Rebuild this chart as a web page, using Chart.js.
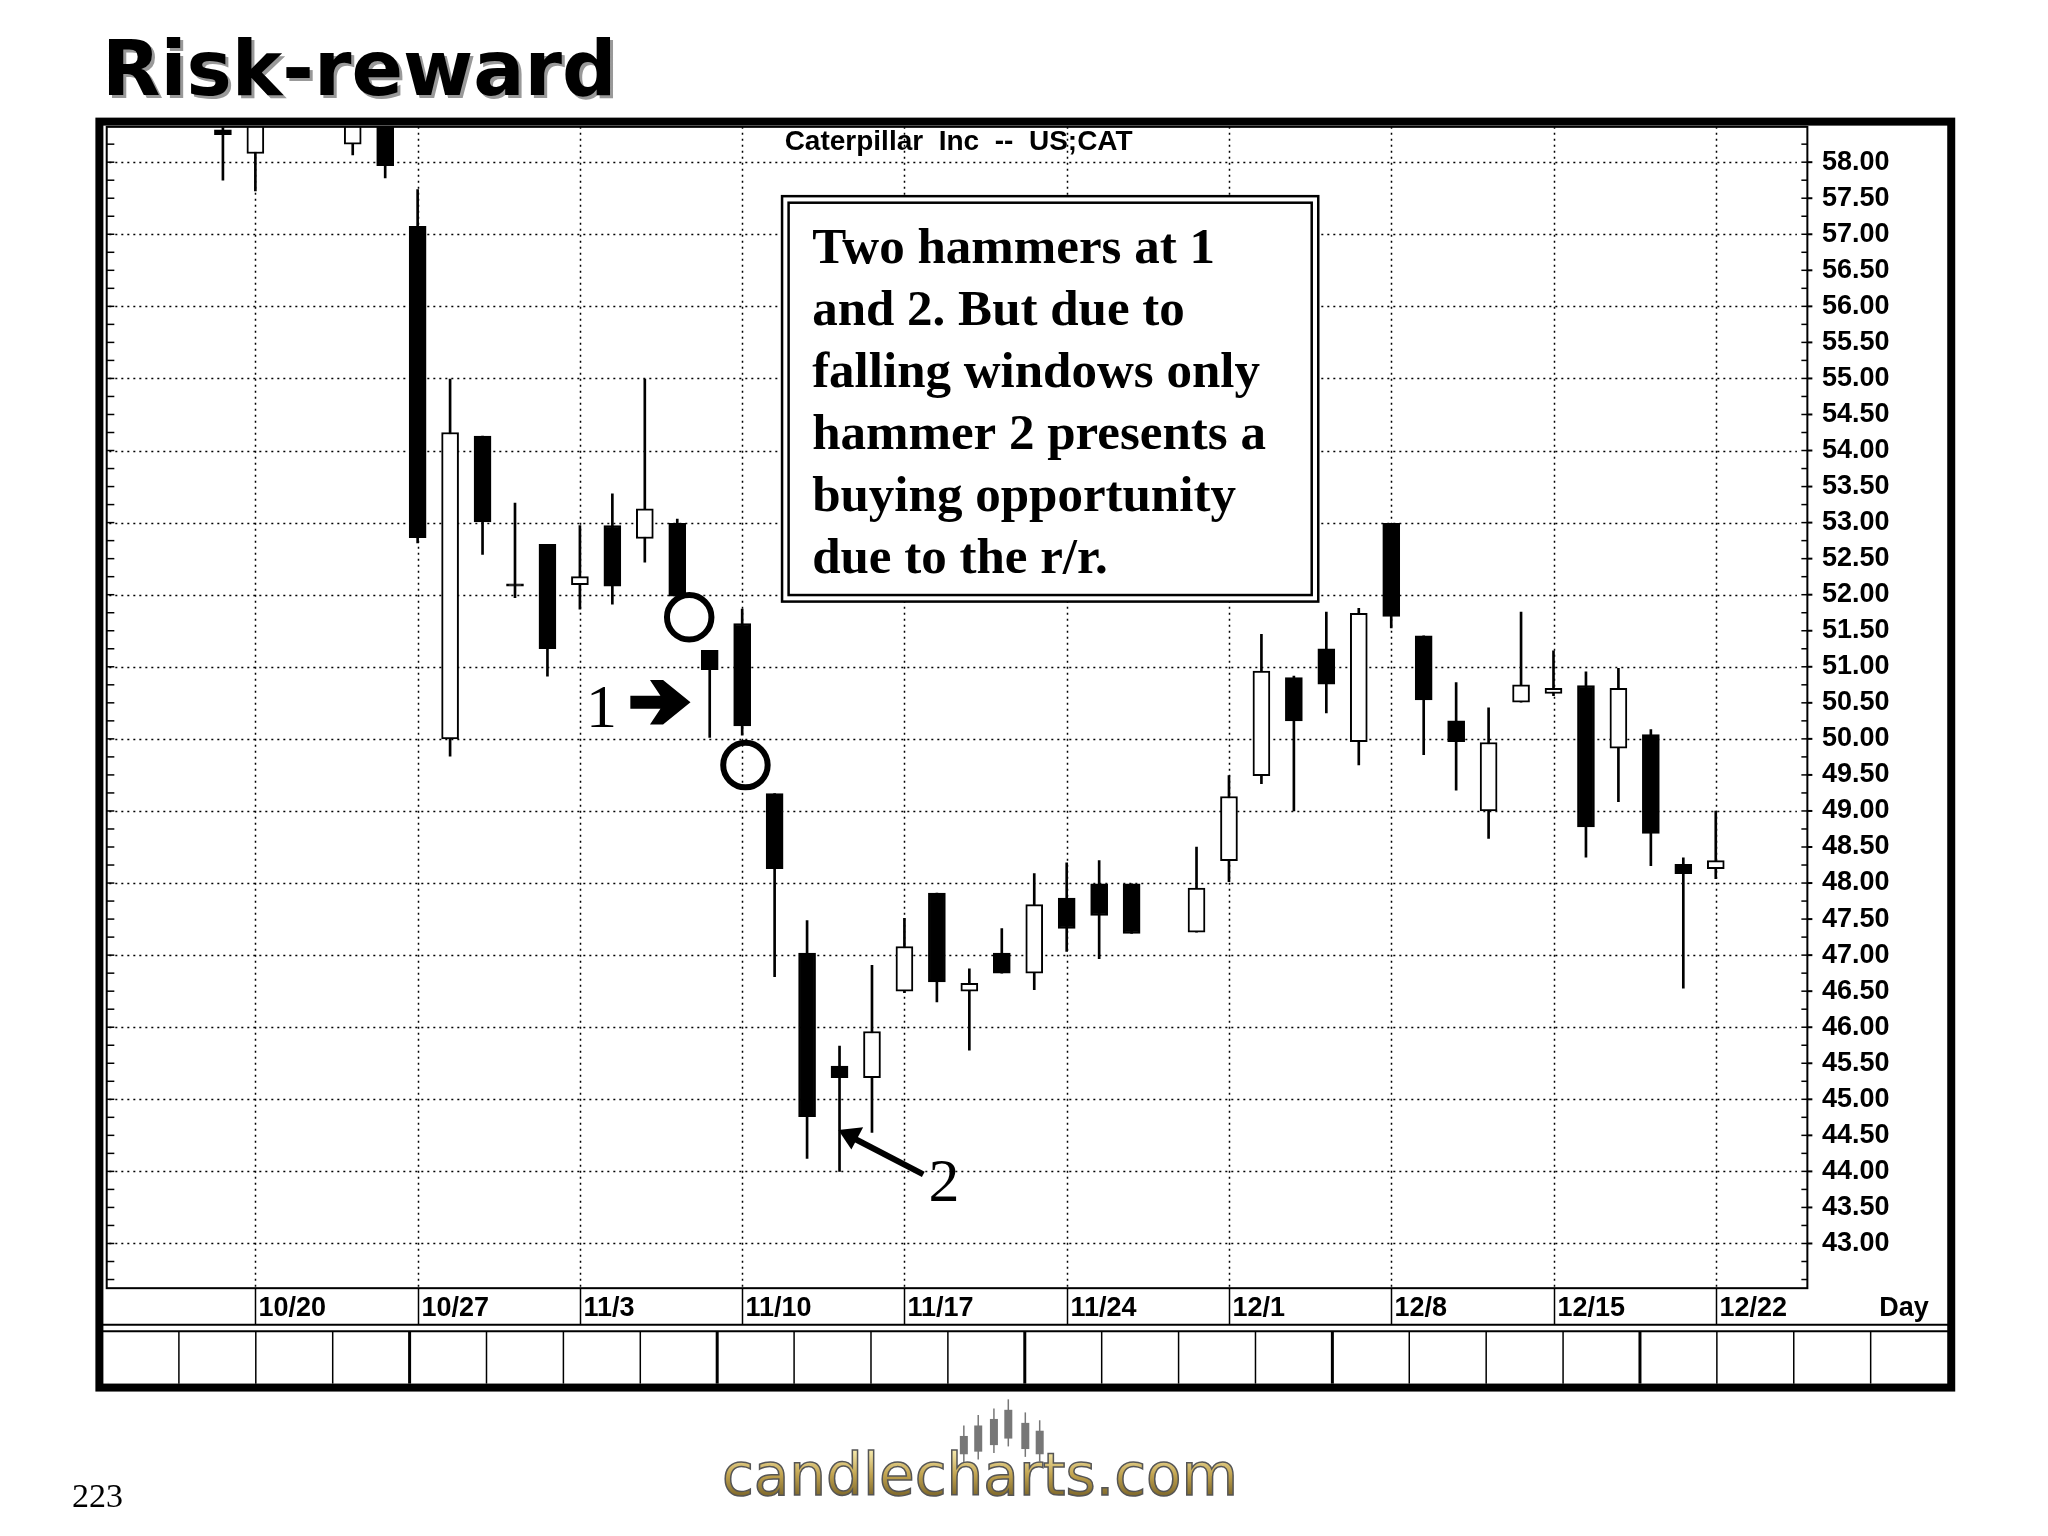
<!DOCTYPE html>
<html>
<head>
<meta charset="utf-8">
<script src="https://cdn.jsdelivr.net/npm/chart.js@4.4.1/dist/chart.umd.min.js"></script>
<style>
  html, body { margin: 0; padding: 0; background: #fff; }
  #wrap { position: relative; width: 2048px; height: 1536px; }
  canvas { position: absolute; left: 0; top: 0; }
</style>
</head>
<body>
<div id="wrap"><canvas id="cat" width="2048" height="1536"></canvas></div>
<script>
// trading-day slots (holidays keep an empty slot)
const days = ['10/14','10/15','10/16','10/17',
  '10/20','10/21','10/22','10/23','10/24',
  '10/27','10/28','10/29','10/30','10/31',
  '11/3','11/4','11/5','11/6','11/7',
  '11/10','11/11','11/12','11/13','11/14',
  '11/17','11/18','11/19','11/20','11/21',
  '11/24','11/25','11/26','11/27','11/28',
  '12/1','12/2','12/3','12/4','12/5',
  '12/8','12/9','12/10','12/11','12/12',
  '12/15','12/16','12/17','12/18','12/19',
  '12/22','12/23','12/24'];
const weekLabels = ['10/20','10/27','11/3','11/10','11/17','11/24','12/1','12/8','12/15','12/22'];

const opens = [null,null,null,58.45, 58.12,null,null,58.25,58.7,
  57.11,50.0,54.2,52.15,52.7, 52.14,52.96,52.78,52.99,51.23,
  51.6,49.24,47.03,45.46,45.3, 46.5,47.86,46.5,47.03,46.75,
  47.79,47.99,47.99,null,47.32, 48.31,49.49,50.85,51.25,49.96,
  52.99,51.43,50.25,49.0,50.51, 50.63,50.74,49.87,50.06,48.26,
  48.2,null,null];
const closes = [null,null,null,58.38, 58.8,null,null,58.7,57.95,
  52.79,54.25,53.01,52.12,51.25, 52.25,52.12,53.19,51.98,50.96,
  50.18,48.2,44.76,45.3,45.94, 47.12,46.63,46.61,46.75,47.7,
  47.37,47.55,47.3,null,47.93, 49.2,50.94,50.25,50.76,51.74,
  51.7,50.54,49.96,49.95,50.75, 50.7,48.78,50.7,48.69,48.13,
  48.31,null,null];
const highs = [null,null,null,58.6, 59.0,null,null,59.0,59.0,
  57.62,54.99,54.2,53.27,52.7, 52.96,53.4,54.99,53.05,51.23,
  51.8,49.24,47.48,45.74,46.86, 47.51,47.86,46.81,47.37,48.13,
  48.28,48.31,47.99,null,48.5, 49.49,51.45,50.87,51.76,51.81,
  52.99,51.43,50.78,50.43,51.76, 51.22,50.93,50.98,50.13,48.35,
  49.0,null,null];
const lows = [null,null,null,57.75, 57.6,null,null,58.1,57.78,
  52.72,49.76,52.56,51.96,50.87, 51.8,51.87,52.45,51.98,50.02,
  50.05,46.7,44.18,44.0,44.54, 46.48,46.35,45.68,46.75,46.52,
  47.05,46.95,47.3,null,47.32, 48.02,49.38,49.0,50.36,49.64,
  51.54,49.78,49.29,48.62,50.51, 50.6,48.36,49.13,48.24,46.54,
  48.06,null,null];

const yTicks = [];
for (let v = 43; v <= 58; v += 0.5) yTicks.push(v);

const noteLines = ['Two hammers at 1', 'and 2. But due to', 'falling windows only',
  'hammer 2 presents a', 'buying opportunity', 'due to the r/r.'];

const S = 2048 / 1566;  // sketch units -> canvas pixels

// plot rectangle in sketch units
const PL = 83.6, PT = 97, PR = 1374, PB = 985, AXR = 1489, ROWB = 1013;

const isUp = i => closes[i] !== null && closes[i] >= opens[i];

const decor = {
  id: 'decor',
  beforeDatasetsDraw(chart) {
    const { ctx, chartArea: a, scales: { x, y } } = chart;
    ctx.save();
    ctx.strokeStyle = '#000';
    ctx.lineWidth = 1.5;
    ctx.setLineDash([2, 4]);
    for (let v = 43; v <= 58; v++) {
      const py = Math.round(y.getPixelForValue(v)) + 0.5;
      ctx.beginPath(); ctx.moveTo(a.left, py); ctx.lineTo(a.right, py); ctx.stroke();
    }
    days.forEach((d, i) => {
      if (!weekLabels.includes(d)) return;
      const px = Math.round(x.getPixelForValue(i)) + 0.5;
      ctx.beginPath(); ctx.moveTo(px, a.top); ctx.lineTo(px, a.bottom); ctx.stroke();
    });
    ctx.restore();
  },
  afterDraw(chart) {
    const { ctx, chartArea: a, scales: { x, y } } = chart;
    ctx.save();
    ctx.strokeStyle = '#000';
    ctx.fillStyle = '#000';
    // plot border
    ctx.lineWidth = 2;
    ctx.strokeRect(a.left - 2 * S, a.top, a.right - a.left + 10 * S, a.bottom - a.top);
    const axX = a.right + 8 * S;
    ctx.lineWidth = 1.5;
    for (let v = 42.5; v <= 58.5; v += 0.25) {
      const py = y.getPixelForValue(v);
      if (py < a.top || py > a.bottom) continue;
      ctx.beginPath(); ctx.moveTo(a.left - 2 * S, py); ctx.lineTo(a.left + 5, py); ctx.stroke();
      ctx.beginPath(); ctx.moveTo(axX, py); ctx.lineTo(axX - 6, py); ctx.stroke();
    }
    ctx.lineWidth = 2;
    yTicks.forEach(v => {
      const py = y.getPixelForValue(v);
      ctx.beginPath(); ctx.moveTo(axX, py); ctx.lineTo(axX + 5, py); ctx.stroke();
    });
    // x labels
    const rowBottom = ROWB * S;
    ctx.lineWidth = 1.5;
    ctx.font = 'bold 27px "Liberation Sans", Arial';
    ctx.textBaseline = 'middle';
    ctx.textAlign = 'left';
    days.forEach((d, i) => {
      if (!weekLabels.includes(d)) return;
      const px = Math.round(x.getPixelForValue(i)) + 0.5;
      ctx.beginPath(); ctx.moveTo(px, a.bottom); ctx.lineTo(px, rowBottom); ctx.stroke();
      ctx.fillText(d, px + 3, (a.bottom + rowBottom) / 2 + 2);
    });
    ctx.fillText('Day', 1437 * S, (a.bottom + rowBottom) / 2 + 2);
    // lower empty panel
    ctx.lineWidth = 2;
    ctx.beginPath(); ctx.moveTo(78 * S, rowBottom); ctx.lineTo(1490 * S, rowBottom); ctx.stroke();
    ctx.beginPath(); ctx.moveTo(78 * S, 1018 * S); ctx.lineTo(1490 * S, 1018 * S); ctx.stroke();
    for (let k = 1; k < 24; k++) {
      const px = (78 + k * 58.8) * S;
      ctx.lineWidth = (k % 4 === 0) ? 3 : 1.5;
      ctx.beginPath(); ctx.moveTo(px, 1018 * S); ctx.lineTo(px, 1058 * S); ctx.stroke();
    }
    // outer frame
    ctx.lineWidth = 8;
    ctx.strokeRect(76 * S, 93 * S, (1492 - 76) * S, (1061 - 93) * S);

    // chart title
    ctx.font = 'bold 28px "Liberation Sans", Arial';
    ctx.textAlign = 'center';
    ctx.fillText('Caterpillar  Inc  --  US;CAT', 733 * S, 109 * S);

    // note box
    ctx.fillStyle = '#fff';
    ctx.fillRect(598 * S, 150 * S, 410 * S, 310 * S);
    ctx.fillStyle = '#000';
    ctx.lineWidth = 2.5;
    ctx.strokeRect(598 * S, 150 * S, 410 * S, 310 * S);
    ctx.strokeRect(603 * S, 155 * S, 400 * S, 300 * S);
    ctx.font = 'bold 51px "Liberation Serif", "Times New Roman", serif';
    ctx.textAlign = 'left';
    ctx.textBaseline = 'alphabetic';
    noteLines.forEach((t, k) => ctx.fillText(t, 621 * S, (201 + k * 47.5) * S));

    // window circles
    ctx.lineWidth = 6;
    [[527, 472], [570, 585]].forEach(([cx, cy]) => {
      ctx.beginPath(); ctx.arc(cx * S, cy * S, 17 * S, 0, Math.PI * 2); ctx.stroke();
    });

    // marker 1 and arrow
    ctx.font = '62px "Liberation Serif", "Times New Roman", serif';
    ctx.fillText('1', 448 * S, 556 * S);
    ctx.beginPath();
    ctx.moveTo(482 * S, 532 * S); ctx.lineTo(505 * S, 532 * S); ctx.lineTo(497 * S, 520 * S);
    ctx.lineTo(507 * S, 520 * S); ctx.lineTo(528 * S, 537 * S); ctx.lineTo(507 * S, 554 * S);
    ctx.lineTo(497 * S, 554 * S); ctx.lineTo(505 * S, 542 * S); ctx.lineTo(482 * S, 542 * S);
    ctx.closePath(); ctx.fill();

    // marker 2 and arrow
    ctx.fillText('2', 710 * S, 918 * S);
    ctx.lineWidth = 6;
    ctx.beginPath(); ctx.moveTo(706 * S, 898 * S); ctx.lineTo(652 * S, 870 * S); ctx.stroke();
    ctx.beginPath();
    ctx.moveTo(641 * S, 864 * S); ctx.lineTo(660 * S, 862 * S); ctx.lineTo(651 * S, 879 * S);
    ctx.closePath(); ctx.fill();
    ctx.restore();
  }
};

const padL = PL * S, padT = PT * S;
const yW = (AXR - PR) * S, xH = (ROWB - PB) * S;
const padR = 2048 - AXR * S, padB = 1536 - ROWB * S;

new Chart(document.getElementById('cat'), {
  type: 'bar',
  data: {
    labels: days,
    datasets: [
      {
        label: 'Body',
        data: days.map((d, i) => opens[i] === null ? null : [opens[i], closes[i]]),
        backgroundColor: days.map((d, i) => isUp(i) ? '#fff' : '#000'),
        borderColor: '#000',
        borderWidth: 2,
        borderSkipped: false,
        barThickness: 17,
        grouped: false,
        order: 0
      },
      {
        label: 'Range',
        data: days.map((d, i) => lows[i] === null ? null : [lows[i], highs[i]]),
        backgroundColor: '#000',
        borderWidth: 0,
        barThickness: 2,
        grouped: false,
        order: 1
      }
    ]
  },
  options: {
    responsive: false,
    animation: false,
    devicePixelRatio: 1,
    layout: { padding: { left: padL, top: padT, right: padR, bottom: padB } },
    plugins: { legend: { display: false }, tooltip: { enabled: false } },
    scales: {
      x: {
        type: 'category',
        offset: true,
        grid: { display: false },
        border: { display: false },
        ticks: { display: false },
        afterFit: s => { s.height = xH; }
      },
      y: {
        position: 'right',
        min: 42.38,
        max: 58.49,
        grid: { display: false },
        border: { display: false },
        afterBuildTicks: s => { s.ticks = yTicks.map(v => ({ value: v })); },
        afterFit: s => { s.width = yW; },
        ticks: {
          padding: 13 * S,
          color: '#000',
          font: { family: '"Liberation Sans", Arial', size: 27, weight: 'bold' },
          callback: v => Number(v).toFixed(2)
        }
      }
    }
  },
  plugins: [decor]
});

// page text outside the chart frame
(function () {
  const c = document.getElementById('cat');
  const ctx = c.getContext('2d');
  const draw = () => {
    ctx.save();
    ctx.font = 'bold 76px "DejaVu Sans", Verdana, sans-serif';
    ctx.textBaseline = 'alphabetic';
    ctx.fillStyle = '#999';
    ctx.fillText('Risk-reward', 78 * S + 3, 73 * S + 3);
    ctx.fillStyle = '#000';
    ctx.fillText('Risk-reward', 78 * S, 73 * S);
    ctx.font = '34px "Liberation Serif", serif';
    ctx.fillText('223', 55 * S, 1152 * S);
    // logo
    const g = ctx.createLinearGradient(0, 1110 * S, 0, 1145 * S);
    g.addColorStop(0, '#f3e6a8'); g.addColorStop(0.5, '#c2a450'); g.addColorStop(1, '#7a6428');
    ctx.font = '58px "DejaVu Sans", sans-serif';
    ctx.fillStyle = g;
    ctx.strokeStyle = '#555';
    ctx.lineWidth = 1.5;
    ctx.fillText('candlecharts.com', 552 * S, 1143 * S);
    ctx.strokeText('candlecharts.com', 552 * S, 1143 * S);
    ctx.fillStyle = '#777';
    ctx.strokeStyle = '#777';
    [[737, 1098, 1112], [748, 1090, 1110], [760, 1085, 1105], [771, 1078, 1100], [784, 1088, 1108], [795, 1094, 1112]]
      .forEach(([px, t, b]) => {
        ctx.beginPath(); ctx.moveTo(px * S, (t - 8) * S); ctx.lineTo(px * S, (b + 6) * S); ctx.stroke();
        ctx.fillRect(px * S - 4, t * S, 8, (b - t) * S);
      });
    ctx.restore();
  };
  requestAnimationFrame(draw);
})();
</script>
</body>
</html>
